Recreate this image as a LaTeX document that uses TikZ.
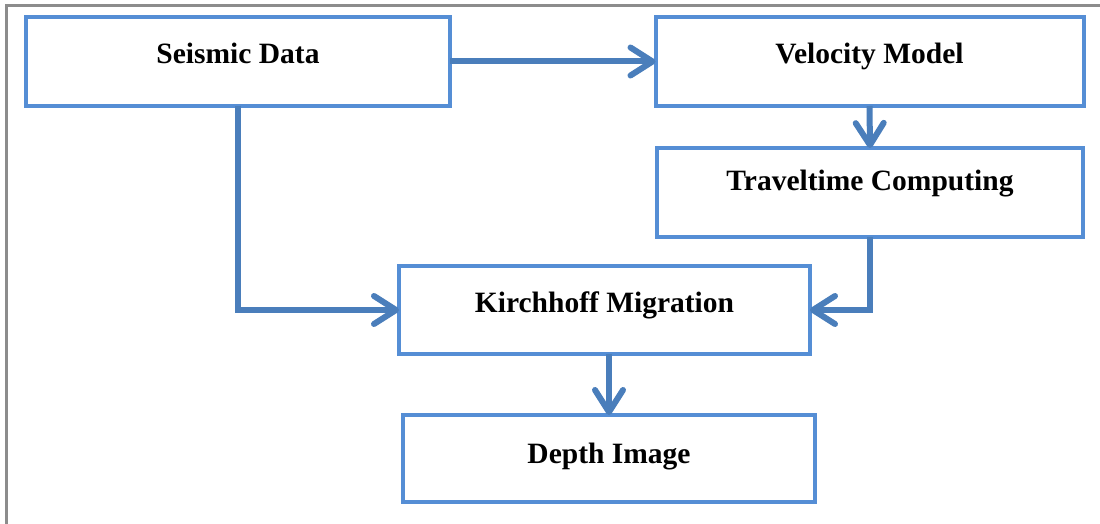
\documentclass[tikz,border=0pt]{standalone}
\usepackage{fontspec}
\setmainfont{Liberation Serif}
\usetikzlibrary{arrows.meta,calc}
\definecolor{boxblue}{HTML}{558ED5}
\definecolor{arrowblue}{HTML}{4A7EBB}
\definecolor{framegray}{HTML}{8C8C8C}
\tikzset{
  stepbox/.style={draw=boxblue, line width=4pt, fill=white, rectangle,
    inner sep=0pt, outer sep=0pt},
  steptext/.style={anchor=base, inner sep=0pt,
    font=\fontsize{29.5}{34}\selectfont\bfseries},
  flow/.style={draw=arrowblue, line width=6pt,
    -{Straight Barb[length=22pt,width=28pt,round]}},
}
\begin{document}
\begin{tikzpicture}[x=1pt,y=-1pt]
  \useasboundingbox (0,0) rectangle (1100,524);
  % page frame (only the left and top edges are in view)
  \draw[framegray, line width=2.5pt] (6.5,530) -- (6.5,5.5) -- (1110,5.5);

  % process boxes
  \node[stepbox, minimum width=424pt, minimum height=89pt] (sd) at (238,61.5) {};
  \node[stepbox, minimum width=428pt, minimum height=89pt] (vm) at (869.5,61.5) {};
  \node[stepbox, minimum width=426pt, minimum height=89pt] (tc) at (870,192.5) {};
  \node[stepbox, minimum width=411pt, minimum height=88pt] (km) at (604.5,310) {};
  \node[stepbox, minimum width=412pt, minimum height=87pt] (di) at (609,458.5) {};

  % box captions
  \node[steptext] (sdt) at ($(sd.center)+(0,2)$) {Seismic Data};
  \node[steptext] (vmt) at ($(vm.center)+(0,2)$) {Velocity Model};
  \node[steptext] (tct) at ($(tc.center)+(0,-2.5)$) {Traveltime Computing};
  \node[steptext] (kmt) at ($(km.center)+(0,2.3)$) {Kirchhoff Migration};
  \node[steptext] (dit) at ($(di.center)+(0,5)$) {Depth Image};

  % connectors
  \draw[flow] (sd.east) -- (vm.west);
  \draw[flow] (vm.south) -- (tc.north);
  \draw[flow] (sd.south) |- (km.west);
  \draw[flow] (tc.south) |- (km.east);
  \draw[flow] (di.north |- km.south) -- (di.north);
\end{tikzpicture}
\end{document}
